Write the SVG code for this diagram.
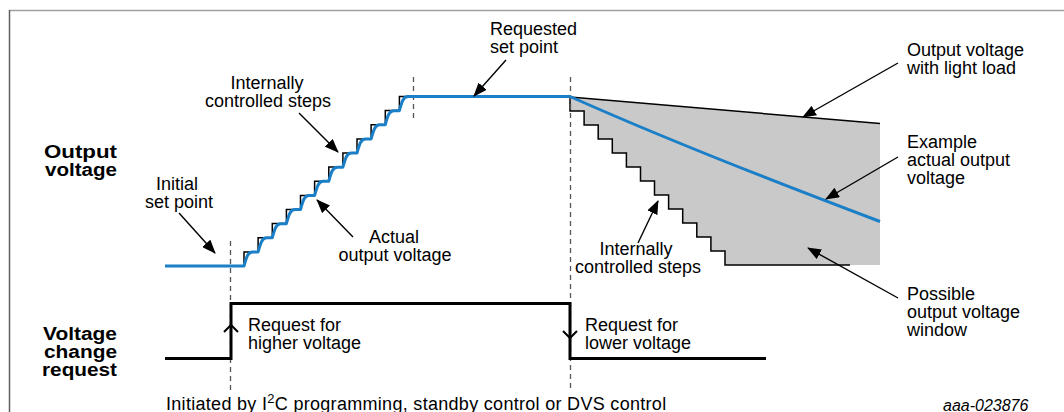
<svg xmlns="http://www.w3.org/2000/svg" width="1064" height="412" viewBox="0 0 1064 412">
<style>
.t{font-family:"Liberation Sans",Arial,sans-serif;font-size:18px;fill:#000}
.b{font-family:"Liberation Sans",Arial,sans-serif;font-size:17.5px;font-weight:bold;fill:#000}
.c{font-family:"Liberation Sans",Arial,sans-serif;font-size:18px;fill:#000;text-anchor:middle}
.dash{stroke:#555;stroke-width:1.3;stroke-dasharray:5 4;fill:none}
.ann{stroke:#000;stroke-width:1.4;fill:none;marker-end:url(#ah)}
.blue{stroke:#1a7fc6;stroke-width:3;fill:none;stroke-linejoin:round}
.stair{stroke:#000;stroke-width:1.5;fill:none}
.sig{stroke:#000;stroke-width:3;fill:none}
</style>
<defs>
<marker id="ah" markerUnits="userSpaceOnUse" markerWidth="14" markerHeight="11" refX="13" refY="5.5" orient="auto">
<path d="M0,0 L14,5.5 L0,11 Z" fill="#000"/>
</marker>
</defs>
<rect width="1064" height="412" fill="#fff"/>
<g id="frame">
<line x1="9" y1="10.5" x2="1064" y2="10.5" stroke="#a0a0a0" stroke-width="1.5"/>
<line x1="9.5" y1="10" x2="9.5" y2="412" stroke="#606060" stroke-width="1.5"/>
</g>
<g id="window">
<path d="M570,97 V111 H584.1 V125 H598.2 V139 H612.3 V153 H626.4 V167 H640.5 V181 H654.5 V195 H668.6 V209 H682.7 V223 H696.8 V237 H710.9 V251 H725 V265 H880 V123.5 Z" fill="#c9c9c9"/>
<path class="stair" d="M570,97 V111 H584.1 V125 H598.2 V139 H612.3 V153 H626.4 V167 H640.5 V181 H654.5 V195 H668.6 V209 H682.7 V223 H696.8 V237 H710.9 V251 H725 V265 H850"/>
<path class="stair" d="M570,97 L880,123.5"/>
</g>
<g id="guides">
<line class="dash" x1="230.5" y1="241" x2="230.5" y2="392"/>
<line class="dash" x1="413.5" y1="77" x2="413.5" y2="121"/>
<line class="dash" x1="570.5" y1="77" x2="570.5" y2="392"/>
</g>
<g id="rising">
<path class="stair" d="M244,266 V251.9 H258.1 V237.8 H272.3 V223.6 H286.4 V209.5 H300.5 V195.4 H314.6 V181.3 H328.8 V167.1 H342.9 V153 H357 V138.9 H371.1 V124.8 H385.3 V110.6 H399.4 V96.5 H413.5"/>
<path class="blue" d="M165,266 H244 c2.5,-9 4,-14.125 8.5,-14.125 h5.625 c2.5,-9 4,-14.125 8.5,-14.125 h5.625 c2.5,-9 4,-14.125 8.5,-14.125 h5.625 c2.5,-9 4,-14.125 8.5,-14.125 h5.625 c2.5,-9 4,-14.125 8.5,-14.125 h5.625 c2.5,-9 4,-14.125 8.5,-14.125 h5.625 c2.5,-9 4,-14.125 8.5,-14.125 h5.625 c2.5,-9 4,-14.125 8.5,-14.125 h5.625 c2.5,-9 4,-14.125 8.5,-14.125 h5.625 c2.5,-9 4,-14.125 8.5,-14.125 h5.625 c2.5,-9 4,-14.125 8.5,-14.125 h5.625 c2.5,-9 4,-14.125 8.5,-14.125 H570 Q690,150 880,221.5"/>
</g>
<g id="request-signal">
<path class="sig" d="M165,358.5 H231 V303.5 H570 V358.5 H766"/>
<path d="M224,332 L231,325 L238,332" stroke="#000" stroke-width="2" fill="none"/>
<path d="M563,331 L570,338 L577,331" stroke="#000" stroke-width="2" fill="none"/>
</g>
<g id="connectors">
<line class="ann" x1="506" y1="60" x2="474" y2="96"/>
<line class="ann" x1="299" y1="113" x2="338" y2="152"/>
<line class="ann" x1="179" y1="213" x2="215" y2="253"/>
<line class="ann" x1="353" y1="237" x2="317" y2="200"/>
<line class="ann" x1="898" y1="63" x2="803" y2="117"/>
<line class="ann" x1="898" y1="157" x2="826" y2="199"/>
<line class="ann" x1="638" y1="243" x2="658" y2="201"/>
<line class="ann" x1="898" y1="298" x2="808" y2="248"/>
</g>
<g id="label-output-voltage">
<text class="b" x="44" y="158" textLength="73" lengthAdjust="spacingAndGlyphs">Output</text>
<text class="b" x="45" y="176" textLength="72" lengthAdjust="spacingAndGlyphs">voltage</text>
</g>
<g id="label-voltage-change">
<text class="b" x="43" y="339.5" textLength="74" lengthAdjust="spacingAndGlyphs">Voltage</text>
<text class="b" x="44" y="357.5" textLength="73" lengthAdjust="spacingAndGlyphs">change</text>
<text class="b" x="42" y="375.5" textLength="75" lengthAdjust="spacingAndGlyphs">request</text>
</g>
<g id="label-requested">
<text class="t" x="490" y="35">Requested</text>
<text class="t" x="490" y="53">set point</text>
</g>
<g id="label-steps-up">
<text class="c" x="267" y="89">Internally</text>
<text class="c" x="268" y="107">controlled steps</text>
</g>
<g id="label-initial">
<text class="c" x="177" y="190">Initial</text>
<text class="c" x="179" y="208">set point</text>
</g>
<g id="label-actual">
<text class="c" x="394" y="243">Actual</text>
<text class="c" x="395" y="261">output voltage</text>
</g>
<g id="label-light-load">
<text class="t" x="907" y="56">Output voltage</text>
<text class="t" x="907" y="74">with light load</text>
</g>
<g id="label-example">
<text class="t" x="907" y="148">Example</text>
<text class="t" x="907" y="166">actual output</text>
<text class="t" x="907" y="184">voltage</text>
</g>
<g id="label-steps-down">
<text class="c" x="636" y="255">Internally</text>
<text class="c" x="638" y="273">controlled steps</text>
</g>
<g id="label-window">
<text class="t" x="907" y="300">Possible</text>
<text class="t" x="907" y="318">output voltage</text>
<text class="t" x="907" y="336">window</text>
</g>
<g id="label-higher">
<text class="t" x="248" y="331">Request for</text>
<text class="t" x="248" y="349">higher voltage</text>
</g>
<g id="label-lower">
<text class="t" x="585" y="331">Request for</text>
<text class="t" x="585" y="349">lower voltage</text>
</g>
<g id="label-initiated">
<text class="t" x="166" y="410" letter-spacing="0.3">Initiated by I<tspan dy="-7" font-size="13">2</tspan><tspan dy="7">C programming, standby control or DVS control</tspan></text>
</g>
<g id="label-id">
<text class="t" x="943" y="410.5" font-style="italic" style="font-size:16px">aaa-023876</text>
</g>
</svg>
